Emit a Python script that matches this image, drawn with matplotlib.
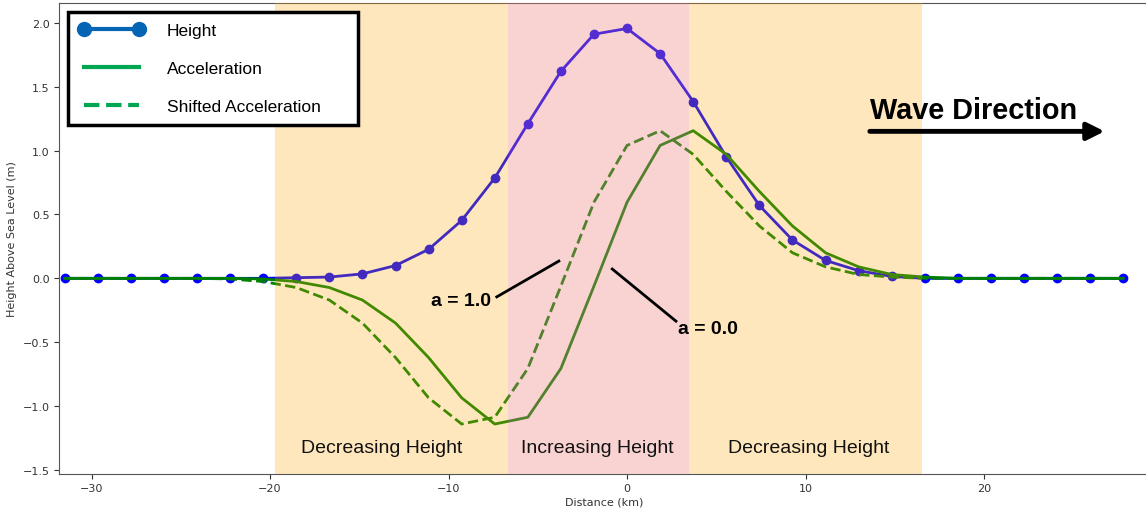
import numpy as np
import matplotlib
matplotlib.use("Agg")
import matplotlib.pyplot as plt
from matplotlib.lines import Line2D

# sample index along the profile, spacing in km
step_km = 1.853
idx = np.arange(-17, 16)

height = [0, 0, 0, 0, 0, 0, 0, 0.005, 0.01, 0.035, 0.10, 0.227, 0.453, 0.785,
          1.21, 1.62, 1.91, 1.955, 1.758, 1.383, 0.95, 0.57, 0.30, 0.14, 0.06,
          0.015, 0, 0, 0, 0, 0, 0, 0]

accel = [0, 0, 0, 0, 0, 0, -0.005, -0.025, -0.072, -0.17, -0.35, -0.62, -0.935,
         -1.14, -1.087, -0.705, -0.06, 0.596, 1.04, 1.155, 0.97, 0.68, 0.41,
         0.20, 0.09, 0.03, 0.01, 0, 0, 0, 0, 0, 0]

# shifted acceleration = acceleration moved one sample back (a = 1.0)
shifted = accel[1:] + [0]

spans = [(-19.75, -6.69, "orange", 0.26),
         (-6.69, 3.47, "lightcoral", 0.35),
         (3.47, 16.55, "orange", 0.26)]
span_labels = ["Decreasing Height", "Increasing Height", "Decreasing Height"]
label_x = [-13.75, -1.65, 10.2]

dist = idx * step_km

fig = plt.figure(figsize=(11.46, 5.10), dpi=100)
ax = fig.add_axes([0.0517, 0.0696, 0.9503, 0.922])

ax.plot(dist, height, color="blue", lw=2, marker="o", ms=6, zorder=2)
ax.plot(dist, accel, color="green", lw=2, zorder=3)
ax.plot(dist, shifted, color="green", lw=2, ls="--", zorder=3)

# shaded spans are laid over the lines, which tints them
for (x0, x1, c, a) in spans:
    ax.axvspan(x0, x1, color=c, alpha=a, lw=0, zorder=4)

txt_font = ["Liberation Sans", "DejaVu Sans"]
for s, x in zip(span_labels, label_x):
    ax.text(x, -1.32, s, fontsize=14, ha="center", va="center",
            family=txt_font, color="#111111", zorder=6)

# a = 1.0 / a = 0.0 pointers
ax.plot([-7.3, -3.82], [-0.145, 0.135], color="black", lw=2, zorder=6)
ax.text(-7.6, -0.17, "a = 1.0", fontsize=14, fontweight="bold", ha="right",
        va="center", family=txt_font, zorder=6)
ax.plot([-0.83, 2.74], [0.073, -0.335], color="black", lw=2, zorder=6)
ax.text(2.85, -0.39, "a = 0.0", fontsize=14, fontweight="bold", ha="left",
        va="center", family=txt_font, zorder=6)

# wave direction arrow
ax.text(13.6, 1.32, "Wave Direction", fontsize=20.8, fontweight="bold",
        ha="left", va="center", family=txt_font, zorder=6)
ax.annotate("", xy=(26.75, 1.15), xytext=(13.6, 1.15),
            arrowprops=dict(arrowstyle="-|>", lw=3.5, color="black",
                            mutation_scale=26, shrinkA=0, shrinkB=0),
            zorder=6)

ax.set_xlim(-31.81, 29.2)
ax.set_ylim(-1.527, 2.152)
ax.set_xticks([-30, -20, -10, 0, 10, 20])
ax.set_yticks(np.arange(-1.5, 2.01, 0.5))
ax.tick_params(labelsize=8, colors="#333333")
ax.set_xlabel("Distance (km)", fontsize=8, color="#333333", labelpad=2)
ax.set_ylabel("Height Above Sea Level (m)", fontsize=8, color="#333333")
for sp in ax.spines.values():
    sp.set_color("#555555")

handles = [Line2D([], [], color="#0565b5", lw=3, marker="o", ms=10),
           Line2D([], [], color="#00a651", lw=3),
           Line2D([], [], color="#00a651", lw=3, ls="--")]
leg_labels = ["Height", "Acceleration", "Shifted Acceleration\u2003\u2002"]
leg = ax.legend(handles, leg_labels,
                loc="upper left", numpoints=2, fancybox=False, framealpha=1,
                edgecolor="black", handlelength=3.75, handletextpad=1.3,
                labelspacing=1.3, borderpad=0.65, borderaxespad=0.5,
                prop={"family": txt_font, "size": 12.5})
leg.get_frame().set_linewidth(2.5)
leg.set_zorder(10)

fig.savefig("out.png", dpi=100)
